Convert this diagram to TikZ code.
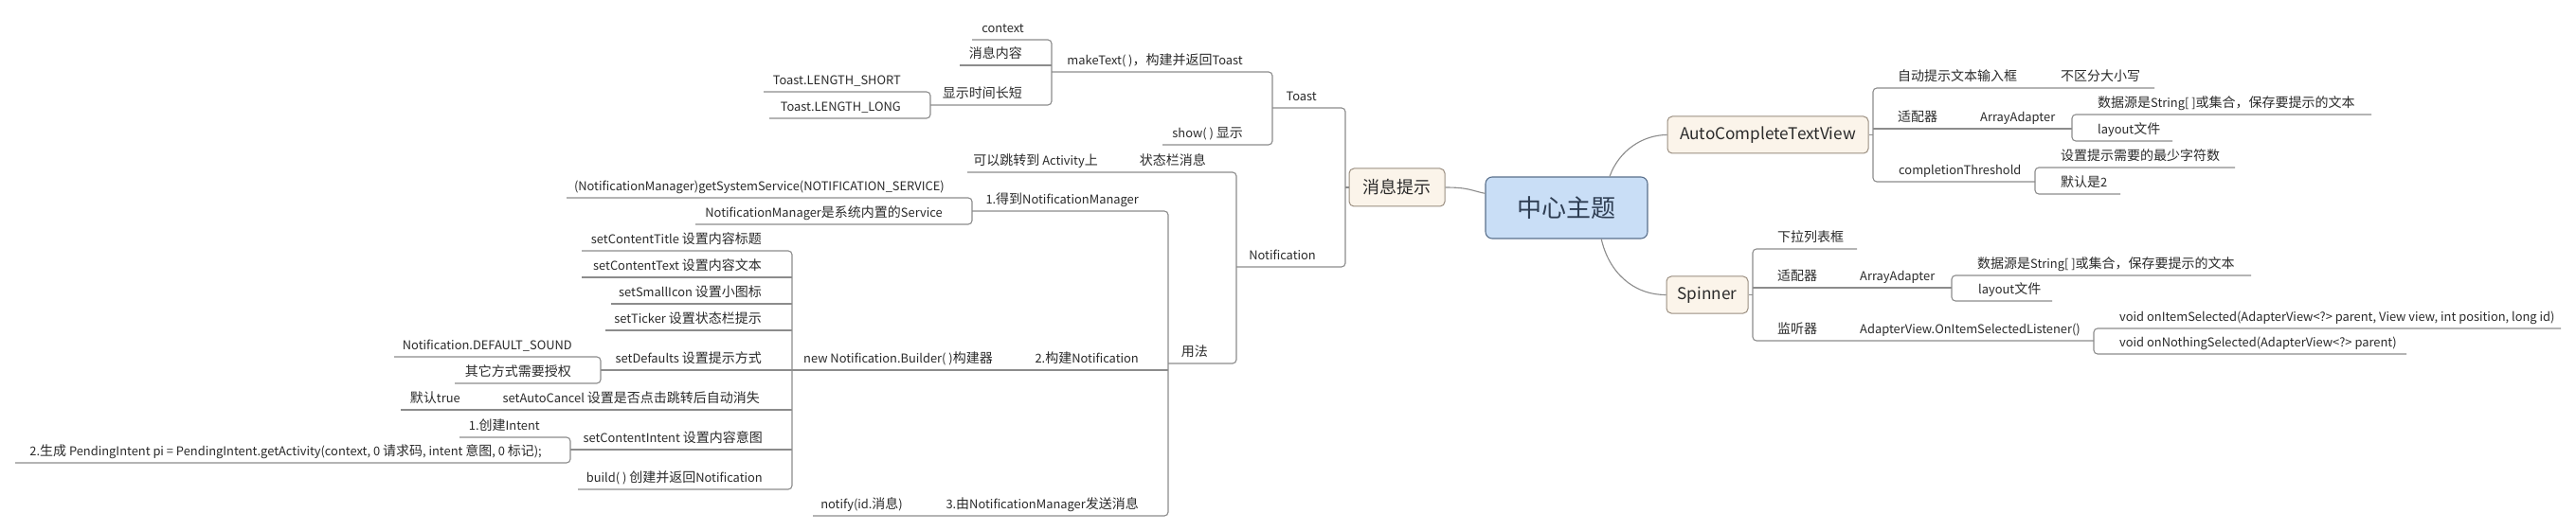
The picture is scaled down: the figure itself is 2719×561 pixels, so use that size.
\documentclass[tikz,border=0pt]{standalone}
\usepackage{fontspec}
\setmainfont{Noto Sans CJK SC}[Scale=0.92]
\newfontfamily\cjkf{Noto Sans CJK SC}
\newfontfamily\latf{Noto Sans CJK SC}[Scale=0.92]
\XeTeXinterchartokenstate=1
\newXeTeXintercharclass\CJKcls
\count255="4E00
\loop
  \XeTeXcharclass\count255=\CJKcls
  \ifnum\count255<"9FFF \advance\count255 by 1
\repeat
\XeTeXcharclass"FF0C=\CJKcls
\XeTeXcharclass"3001=\CJKcls
\XeTeXcharclass"3002=\CJKcls
\XeTeXinterchartoks 0 \CJKcls = {\cjkf}
\XeTeXinterchartoks 4095 \CJKcls = {\cjkf}
\XeTeXinterchartoks \CJKcls 0 = {\latf}
\XeTeXinterchartoks \CJKcls 4095 = {\latf}
\definecolor{lncol}{HTML}{8C8C8C}
\definecolor{txtcol}{HTML}{2B2B2B}
\definecolor{mainfill}{HTML}{C9DEF6}
\definecolor{mainline}{HTML}{5A708C}
\definecolor{maintext}{HTML}{2E3D52}
\definecolor{subfill}{HTML}{FBF4EA}
\definecolor{subline}{HTML}{9A8E80}
\tikzset{
  ln/.style={draw=lncol, line width=1.1pt, rounded corners=4pt},
  curve/.style={draw=lncol, line width=1.1pt},
  txt/.style={inner sep=0pt, text=txtcol, font=\fontsize{14}{16}\selectfont},
  subbox/.style={draw=subline, fill=subfill, rounded corners=5pt, line width=1pt,
    text=txtcol, inner sep=0pt},
  mainbox/.style={draw=mainline, fill=mainfill, rounded corners=7pt, line width=1.1pt,
    font=\fontsize{26}{28}\selectfont, text=maintext, inner sep=0pt}
}
\newcommand\Ltopic[6]{%
  \coordinate (#1L) at (#2,#4);
  \coordinate (#1R) at (#3,#4);
  \node[txt,anchor=base east] (#1) at (#5,#4-7.5) {#6};}
\newcommand\Rtopic[6]{%
  \coordinate (#1L) at (#2,#4);
  \coordinate (#1R) at (#3,#4);
  \node[txt,anchor=base west] (#1) at (#5,#4-7.5) {#6};}
\begin{document}
\begin{tikzpicture}[x=1pt,y=-1pt]
\fill[white] (0,0) rectangle (2719,561);
\useasboundingbox (0,0) rectangle (2719,561);

% central and main topics
\node[mainbox, minimum width=171pt, minimum height=65pt] (center) at (1653.5,219.5) {中心主题};
\node[subbox, minimum width=101pt, minimum height=40pt, font=\fontsize{18}{20}\selectfont] (msgbox) at (1474.5,198) {消息提示};
\node[subbox, minimum width=212pt, minimum height=39pt, font=\fontsize{18.7}{20}\selectfont] (ac) at (1866,142.5) {AutoCompleteTextView};
\node[subbox, minimum width=86pt, minimum height=39pt, font=\fontsize{18.7}{20}\selectfont] (sp) at (1802,311.5) {Spinner};

\draw[curve] (msgbox.east) .. controls +(25,0) and +(-15,-3) .. (center.170);
\draw[curve] (center.36) .. controls +(10,-28) and +(-25,0) .. (ac.west);
\draw[curve] (center.-42) .. controls +(8,35) and +(-35,0) .. (sp.west);

% ---------- left: Toast ----------
\Ltopic{ctx}{1026}{1110}{42}{1081}{context}
\Ltopic{msg}{1013}{1110}{69}{1079}{消息内容}
\Ltopic{dur}{982}{1110}{111}{1079}{显示时间长短}
\Ltopic{short}{806}{982}{97}{951}{Toast.LENGTH\_SHORT}
\Ltopic{long}{812}{982}{125}{951}{Toast.LENGTH\_LONG}
\Ltopic{make}{1110}{1343}{76}{1312}{makeText( )，构建并返回Toast}
\Ltopic{show}{1227}{1343}{153}{1312}{show( ) 显示}
\Ltopic{toast}{1343}{1420}{114}{1390}{Toast}

% ---------- left: Notification ----------
\Ltopic{notif}{1305}{1420}{282}{1389}{Notification}
\Ltopic{status}{1190}{1305}{182}{1273}{状态栏消息}
\Ltopic{jump}{1021}{1190}{182}{1159}{可以跳转到 Activity上}
\Ltopic{usage}{1233}{1305}{384}{1275}{用法}
\Ltopic{get}{1026}{1233}{223}{1202}{1.得到NotificationManager}
\Ltopic{gss}{598}{1026}{209}{997}{(NotificationManager)getSystemService(NOTIFICATION\_SERVICE)}
\Ltopic{nms}{734}{1026}{237}{995}{NotificationManager是系统内置的Service}
\Ltopic{build2}{1070}{1233}{391}{1202}{2.构建Notification}
\Ltopic{builder}{836}{1070}{391}{1048}{new Notification.Builder( )构建器}
\Ltopic{send}{975}{1233}{545}{1202}{3.由NotificationManager发送消息}
\Ltopic{notify}{858}{975}{545}{953}{notify(id.消息)}
\Ltopic{title}{614}{836}{265}{804}{setContentTitle 设置内容标题}
\Ltopic{ctext}{614}{836}{293}{804}{setContentText 设置内容文本}
\Ltopic{icon}{645}{836}{321}{804}{setSmallIcon 设置小图标}
\Ltopic{ticker}{639}{836}{349}{804}{setTicker 设置状态栏提示}
\Ltopic{defaults}{634}{836}{391}{804}{setDefaults 设置提示方式}
\Ltopic{autoc}{505}{836}{433}{802}{setAutoCancel 设置是否点击跳转后自动消失}
\Ltopic{deft}{423}{505}{433}{486}{默认true}
\Ltopic{cint}{602}{836}{475}{805}{setContentIntent 设置内容意图}
\Ltopic{buildr}{610}{836}{517}{805}{build( ) 创建并返回Notification}
\Ltopic{sound}{416}{634}{377}{604}{Notification.DEFAULT\_SOUND}
\Ltopic{other}{480}{634}{405}{603}{其它方式需要授权}
\Ltopic{intent}{485}{602}{462}{570}{1.创建Intent}
\Ltopic{pend}{16}{602}{489}{572}{2.生成 PendingIntent pi = PendingIntent.getActivity(context, 0 请求码, intent 意图, 0 标记);}

% ---------- right: AutoCompleteTextView ----------
\Rtopic{auto}{1977}{2160}{93}{2003}{自动提示文本输入框}
\Rtopic{nocase}{2160}{2274}{93}{2175}{不区分大小写}
\Rtopic{adp}{1977}{2075}{136}{2003}{适配器}
\Rtopic{aa}{2075}{2187}{136}{2090}{ArrayAdapter}
\Rtopic{dsa}{2187}{2503}{121}{2214}{数据源是String[ ]或集合，保存要提示的文本}
\Rtopic{laya}{2187}{2293}{149}{2214}{layout文件}
\Rtopic{thr}{1977}{2148}{192}{2004}{completionThreshold}
\Rtopic{minc}{2148}{2359}{177}{2175}{设置提示需要的最少字符数}
\Rtopic{deftwo}{2148}{2238}{205}{2175}{默认是2}

% ---------- right: Spinner ----------
\Rtopic{drop}{1850}{1960}{263}{1876}{下拉列表框}
\Rtopic{adpb}{1850}{1950}{304}{1876}{适配器}
\Rtopic{aab}{1950}{2060}{304}{1963}{ArrayAdapter}
\Rtopic{dsb}{2060}{2376}{291}{2087}{数据源是String[ ]或集合，保存要提示的文本}
\Rtopic{layb}{2060}{2166}{318}{2088}{layout文件}
\Rtopic{lis}{1850}{1950}{360}{1876}{监听器}
\Rtopic{ol}{1950}{2210}{360}{1963}{AdapterView.OnItemSelectedListener()}
\Rtopic{sel}{2210}{2703}{347}{2237}{void onItemSelected(AdapterView<?> parent, View view, int position, long id)}
\Rtopic{nsel}{2210}{2540}{374}{2237}{void onNothingSelected(AdapterView<?> parent)}

% ---------- connectors left ----------
\draw[ln] (ctxL) -- (ctxR) -- (durR) -- (durL);
\draw[ln] (msgL) -- (msgR);
\draw[ln] (shortL) -- (shortR) -- (longR) -- (longL);
\draw[ln] (makeL) -- (makeR) -- (showR) -- (showL);
\draw[ln] (toastL) -- (toastR) -- (notifR) -- (notifL);
\draw[ln] (msgbox.west) -- (msgbox.west -| toastR);
\draw[ln] (jumpL) -- (statusR) -- (usageR) -- (usageL);
\draw[ln] (getL) -- (getR) -- (sendR) -- (notifyL);
\draw[ln] (build2R) -- (builderL);
\draw[ln] (gssL) -- (gssR) -- (nmsR) -- (nmsL);
\draw[ln] (titleL) -- (titleR) -- (buildrR) -- (buildrL);
\draw[ln] (ctextL) -- (ctextR);
\draw[ln] (iconL) -- (iconR);
\draw[ln] (tickerL) -- (tickerR);
\draw[ln] (defaultsL) -- (defaultsR);
\draw[ln] (deftL) -- (autocR);
\draw[ln] (cintL) -- (cintR);
\draw[ln] (soundL) -- (soundR) -- (otherR) -- (otherL);
\draw[ln] (intentL) -- (intentR) -- (pendR) -- (pendL);

% ---------- connectors right ----------
\draw[ln] (ac.east) -- (ac.east -| autoL);
\draw[ln] (nocaseR) -- (autoL) -- (thrL) -- (thrR);
\draw[ln] (adpL) -- (aaR);
\draw[ln] (dsaR) -- (dsaL) -- (layaL) -- (layaR);
\draw[ln] (mincR) -- (mincL) -- (deftwoL) -- (deftwoR);
\draw[ln] (sp.east) -- (sp.east -| dropL);
\draw[ln] (dropR) -- (dropL) -- (lisL) -- (olR);
\draw[ln] (adpbL) -- (aabR);
\draw[ln] (dsbR) -- (dsbL) -- (laybL) -- (laybR);
\draw[ln] (selR) -- (selL) -- (nselL) -- (nselR);
\end{tikzpicture}
\end{document}
